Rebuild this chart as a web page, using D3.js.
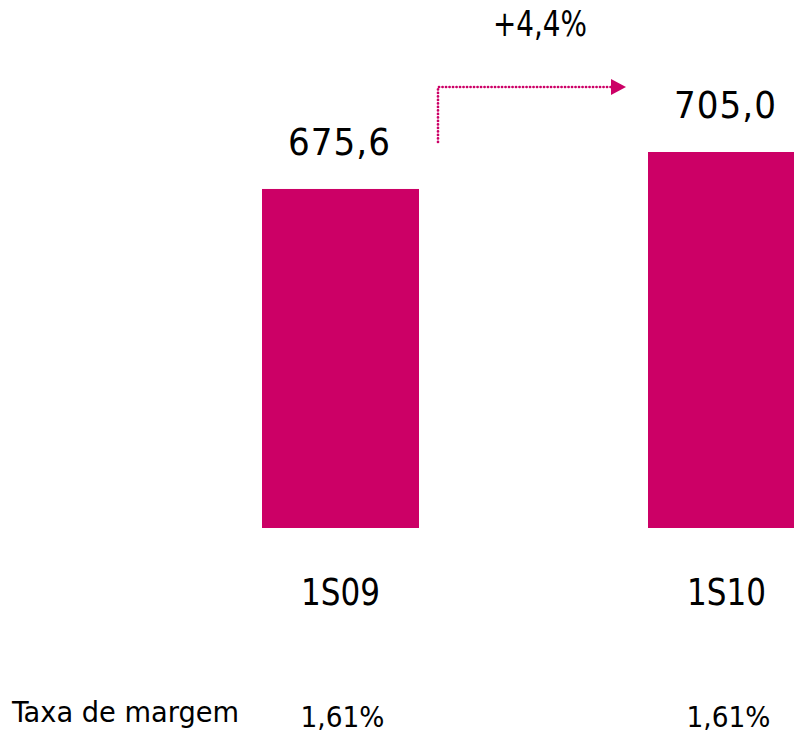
<!DOCTYPE html>
<html>
<head>
<meta charset="utf-8">
<script src="https://cdn.jsdelivr.net/npm/d3@7"></script>
<style>
  body { margin: 0; background: #fff; }
  text { font-family: "DejaVu Sans Condensed", "DejaVu Sans", sans-serif; fill: #000; }
</style>
</head>
<body>
<svg id="chart"></svg>
<script>
// data
let periods = ["1S09", "1S10"];
let values = [675.6, 705.0];
let valueLabels = ["675,6", "705,0"];
let marginLabels = ["1,61%", "1,61%"];
let marginTitle = "Taxa de margem";
let growthLabel = "+4,4%";
let axisFloor = 406; // bars start from a cut axis, not from zero

let width = 794;
let height = 734;
let barWidth = 157;
let magenta = "#cc0066";

let svg = d3.select("#chart")
  .attr("width", width)
  .attr("height", height);

// centers of the two bars
let x = d3.scalePoint()
  .domain(periods)
  .range([340.5, 726.5]);

let y = d3.scaleLinear()
  .domain([axisFloor, d3.max(values)])
  .range([528, 152]);

let rows = periods.map((p, i) => ({
  period: p, value: values[i], label: valueLabels[i], margin: marginLabels[i]
}));

// bars
svg.append("g").selectAll("rect")
  .data(rows)
  .enter().append("rect")
  .attr("x", d => x(d.period) - barWidth / 2)
  .attr("y", d => y(d.value))
  .attr("width", barWidth)
  .attr("height", d => y(axisFloor) - y(d.value))
  .attr("fill", magenta);

// value labels on top of bars
svg.append("g").selectAll("text")
  .data(rows)
  .enter().append("text")
  .attr("x", d => x(d.period) - 1)
  .attr("y", d => y(d.value) - 34)
  .attr("text-anchor", "middle")
  .style("font-size", "38px")
  .style("letter-spacing", "1px")
  .text(d => d.label);

// period labels
svg.append("g").selectAll("text")
  .data(rows)
  .enter().append("text")
  .attr("x", d => x(d.period))
  .attr("y", 605)
  .attr("text-anchor", "middle")
  .attr("textLength", 79)
  .attr("lengthAdjust", "spacingAndGlyphs")
  .style("font-size", "37px")
  .text(d => d.period);

// margin row
svg.append("text")
  .attr("x", 12)
  .attr("y", 722)
  .attr("textLength", 227)
  .attr("lengthAdjust", "spacingAndGlyphs")
  .style("font-size", "29px")
  .text(marginTitle);

svg.append("g").selectAll("text")
  .data(rows)
  .enter().append("text")
  .attr("x", d => x(d.period) + 2)
  .attr("y", 727)
  .attr("text-anchor", "middle")
  .attr("textLength", 84)
  .attr("lengthAdjust", "spacingAndGlyphs")
  .style("font-size", "29px")
  .text(d => d.margin);

// growth arrow between the bars
let x0 = x(periods[0]) + barWidth / 2 + 19;
let x1 = x(periods[1]) - barWidth / 2 - 22;
let yArrow = 87;

svg.append("path")
  .attr("d", d3.line()([[x0, 142], [x0, yArrow], [x1 - 14, yArrow]]))
  .attr("fill", "none")
  .attr("stroke", magenta)
  .attr("stroke-width", 2.7)
  .attr("stroke-linecap", "round")
  .attr("stroke-dasharray", "0.1 3.4");

svg.append("path")
  .attr("d", d3.line()([[x1 - 15, yArrow - 8], [x1, yArrow], [x1 - 15, yArrow + 8]]) + "Z")
  .attr("fill", magenta);

svg.append("text")
  .attr("x", 540)
  .attr("y", 36)
  .attr("text-anchor", "middle")
  .attr("textLength", 94)
  .attr("lengthAdjust", "spacingAndGlyphs")
  .style("font-size", "35px")
  .text(growthLabel);
</script>
</body>
</html>
